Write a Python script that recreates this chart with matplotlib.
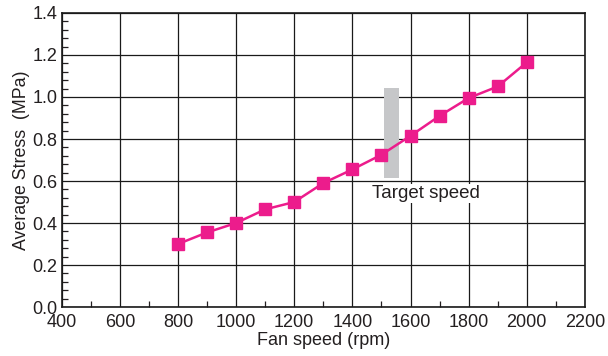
import matplotlib
matplotlib.use("Agg")
import matplotlib.pyplot as plt
from matplotlib.ticker import MultipleLocator, FormatStrFormatter
from matplotlib.patches import Rectangle

plt.rcParams['font.family'] = ['Liberation Sans', 'DejaVu Sans']

# fan speed vs. average stress
speed = [800, 900, 1000, 1100, 1200, 1300, 1400, 1500, 1600, 1700, 1800, 1900, 2000]
stress = [0.30, 0.355, 0.40, 0.465, 0.50, 0.59, 0.655, 0.725, 0.815, 0.91, 0.995, 1.05, 1.165]

# target speed band
target_lo, target_hi = 1508, 1560
target_ymin, target_ymax = 0.615, 1.045

fig = plt.figure(figsize=(6.08, 3.56), dpi=100)
ax = fig.add_axes([0.1015, 0.1376, 0.8605, 0.8259])

txt = '#231f20'
ax.grid(True, color='#1a1a1a', lw=0.9, zorder=0)
ax.set_axisbelow(True)

ax.add_patch(Rectangle((target_lo, target_ymin), target_hi - target_lo,
                       target_ymax - target_ymin, color='#c6c7c9', zorder=3, lw=0))
ax.text(1466, 0.54, 'Target speed', fontsize=13.5, color=txt, va='center', ha='left',
        zorder=2, bbox=dict(facecolor='white', edgecolor='none', pad=0.5))

ax.plot(speed, stress, color='#ec1c8c', lw=1.8, marker='s', ms=8.5,
        markeredgecolor='#ec1c8c', zorder=4)

ax.set_xlim(400, 2200)
ax.set_ylim(0, 1.4)
ax.xaxis.set_major_locator(MultipleLocator(200))
ax.xaxis.set_minor_locator(MultipleLocator(100))
ax.yaxis.set_major_locator(MultipleLocator(0.2))
ax.yaxis.set_minor_locator(MultipleLocator(0.04))
ax.yaxis.set_major_formatter(FormatStrFormatter('%.1f'))
ax.tick_params(which='both', direction='in', colors=txt, labelsize=13)
ax.tick_params(axis='x', pad=5)
ax.tick_params(axis='y', pad=3)
ax.tick_params(which='major', length=0)
ax.tick_params(which='minor', length=4, width=0.9)
for s in ax.spines.values():
    s.set_color('#1a1a1a')
    s.set_linewidth(1.2)

ax.set_xlabel('Fan speed (rpm)', fontsize=13, color=txt, labelpad=1)
ax.set_ylabel('Average Stress  (MPa)', fontsize=12.8, color=txt, labelpad=2)

fig.savefig('out.png', dpi=100)
